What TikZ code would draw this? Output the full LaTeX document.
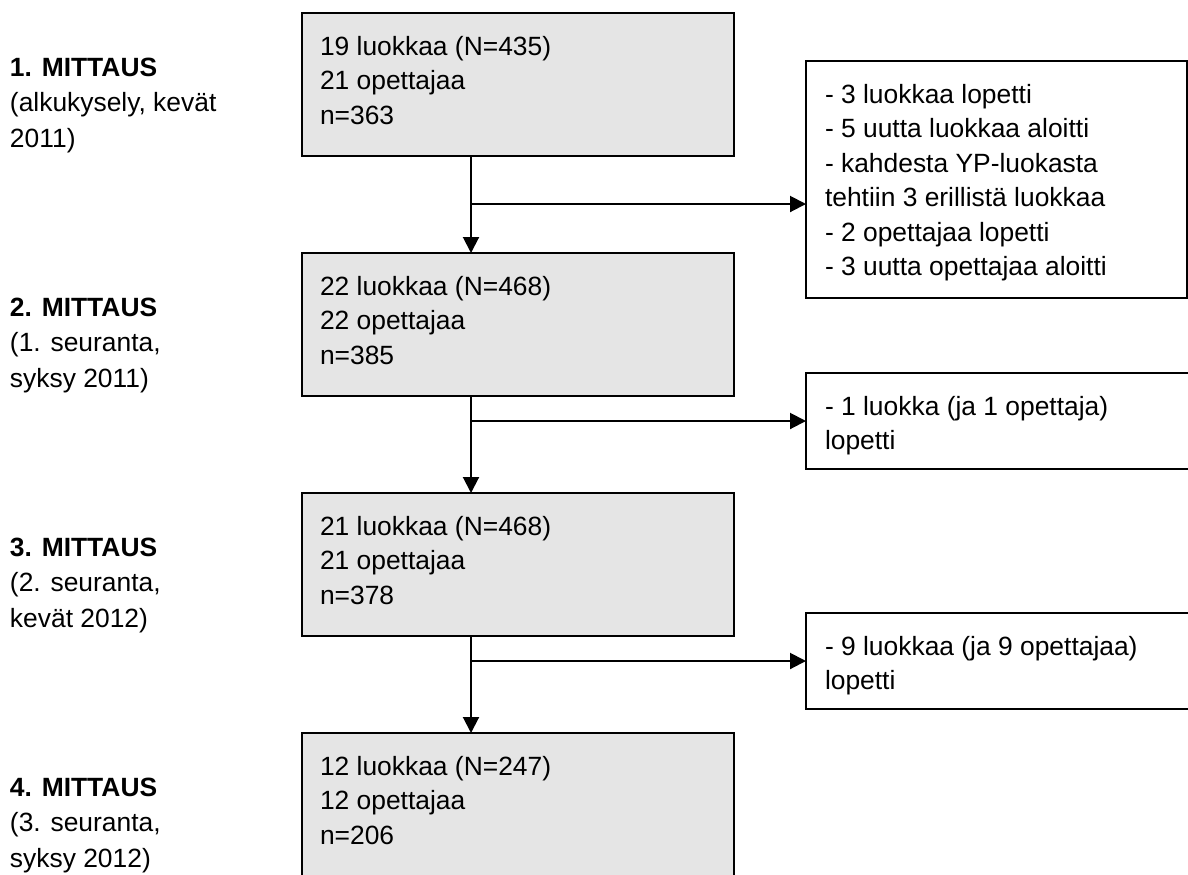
\documentclass[tikz,border=0pt]{standalone}
\usepackage{fontspec}
\setmainfont{Liberation Sans}
\usetikzlibrary{arrows.meta,calc}
\definecolor{boxgray}{RGB}{229,229,229}
\begin{document}
\begin{tikzpicture}[x=0.5pt,y=-0.5pt,
  mainbox/.style={draw=black, line width=1pt, fill=boxgray, anchor=north west,
    inner sep=0pt, outer sep=0pt, minimum width=216pt, minimum height=71.5pt},
  sidebox/.style={draw=black, line width=1pt, fill=white, anchor=north west,
    inner sep=0pt, outer sep=0pt, minimum width=193pt},
  txt/.style={anchor=north west, inner sep=0pt, outer sep=0pt, align=left,
    font=\fontsize{13.2}{17.25}\selectfont},
  lbl/.style={anchor=north west, inner sep=0pt, outer sep=0pt, align=left,
    font=\fontsize{13.2}{17.75}\selectfont},
  arr/.style={line width=1pt, -{Triangle[length=8pt,width=8pt]}}]
\newcommand{\fst}{\rule{0pt}{10pt}}
\useasboundingbox (0,0) rectangle (1188,874);
\clip (0,0) rectangle (1188,874);
% left labels
\node[lbl] (l1) at (10,56) {\fst\textbf{1. MITTAUS}\\(alkukysely, kevät\\2011)};
\node[lbl] (l2) at (10,296) {\fst\textbf{2. MITTAUS}\\(1. seuranta,\\syksy 2011)};
\node[lbl] (l3) at (10,536) {\fst\textbf{3. MITTAUS}\\(2. seuranta,\\kevät 2012)};
\node[lbl] (l4) at (10,776) {\fst\textbf{4. MITTAUS}\\(3. seuranta,\\syksy 2012)};
% main boxes
\node[mainbox] (b1) at (302,13) {};
\node[mainbox] (b2) at (302,253) {};
\node[mainbox] (b3) at (302,493) {};
\node[mainbox] (b4) at (302,733) {};
\node[txt] (t1) at ($(b1.north west)+(18,22)$) {\fst 19 luokkaa (N=435)\\21 opettajaa\\n=363};
\node[txt] (t2) at ($(b2.north west)+(18,22)$) {\fst 22 luokkaa (N=468)\\22 opettajaa\\n=385};
\node[txt] (t3) at ($(b3.north west)+(18,22)$) {\fst 21 luokkaa (N=468)\\21 opettajaa\\n=378};
\node[txt] (t4) at ($(b4.north west)+(18,22)$) {\fst 12 luokkaa (N=247)\\12 opettajaa\\n=206};
% side boxes
\node[sidebox, minimum width=190.5pt, minimum height=118.5pt] (sA) at (806,61) {};
\node[sidebox, minimum height=48pt] (sB) at (806,373) {};
\node[sidebox, minimum height=48pt] (sC) at (806,613) {};
\node[txt] (tA) at ($(sA.north west)+(19,22)$) {\fst - 3 luokkaa lopetti\\- 5 uutta luokkaa aloitti\\- kahdesta YP-luokasta\\tehtiin 3 erillistä luokkaa\\- 2 opettajaa lopetti\\- 3 uutta opettajaa aloitti};
\node[txt] (tB) at ($(sB.north west)+(19,22)$) {\fst - 1 luokka (ja 1 opettaja)\\lopetti};
\node[txt] (tC) at ($(sC.north west)+(19,22)$) {\fst - 9 luokkaa (ja 9 opettajaa)\\lopetti};
% connectors
\coordinate (j1) at (471,204);
\coordinate (j2) at (471,421);
\coordinate (j3) at (471,661);
\draw[arr] (b1.south -| j1) -- (b2.north -| j1);
\draw[arr] (j1) -- (sA.west |- j1);
\draw[arr] (b2.south -| j2) -- (b3.north -| j2);
\draw[arr] (j2) -- (sB.west |- j2);
\draw[arr] (b3.south -| j3) -- (b4.north -| j3);
\draw[arr] (j3) -- (sC.west |- j3);
\end{tikzpicture}
\end{document}
